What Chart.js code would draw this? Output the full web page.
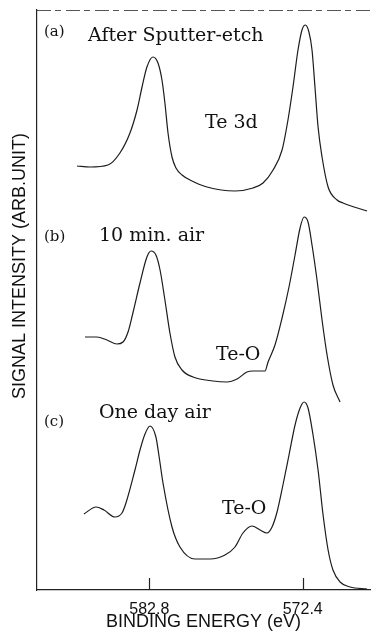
<!DOCTYPE html>
<html>
<head>
<meta charset="utf-8">
<script src="https://cdn.jsdelivr.net/npm/chart.js@4"></script>
<style>
  html, body { margin: 0; padding: 0; background: #fff; }
  canvas { display: block; }
</style>
</head>
<body>
<canvas id="c" width="376" height="638"></canvas>
<script>
// Binding energy (eV) and signal intensity (arb. units) for each spectrum
const energyA = [587.70, 586.82, 585.60, 584.79, 584.11, 583.63, 583.29, 582.96, 582.55, 582.21, 581.94, 581.74, 581.53, 581.26, 580.99, 580.58, 580.04, 578.89, 576.99, 575.77, 575.09, 574.41, 573.80, 573.40, 573.06, 572.72, 572.45, 572.22, 571.98, 571.77, 571.57, 571.36, 571.09, 570.68, 570.07, 569.67, 568.04];
const intensityA = [424, 423, 425, 437, 457, 480, 503, 523, 533, 527, 510, 487, 457, 433, 422, 415, 410, 403, 399, 402, 407, 420, 440, 470, 503, 540, 560, 565, 558, 540, 503, 463, 433, 403, 390, 387, 379];

const energyB = [587.16, 586.35, 585.67, 584.99, 584.58, 584.24, 583.91, 583.43, 582.96, 582.68, 582.35, 582.07, 581.74, 581.40, 581.06, 580.58, 579.84, 578.48, 577.53, 576.85, 576.18, 575.77, 574.96, 574.75, 574.28, 573.80, 573.33, 572.92, 572.58, 572.31, 572.04, 571.77, 571.43, 571.09, 570.75, 570.35, 569.87];
const intensityB = [253, 253, 250, 246, 248, 258, 277, 307, 333, 339, 335, 320, 290, 257, 233, 220, 213, 209, 208, 211, 218, 219, 219, 228, 245, 272, 303, 335, 362, 373, 368, 345, 310, 270, 235, 205, 188];

const energyC = [587.23, 586.41, 585.87, 585.13, 584.65, 584.38, 583.77, 583.43, 583.09, 582.75, 582.35, 582.15, 581.87, 581.26, 580.72, 579.70, 578.68, 577.67, 576.99, 576.45, 575.84, 575.29, 574.82, 574.48, 574.14, 573.74, 573.33, 572.92, 572.58, 572.31, 572.04, 571.70, 571.36, 571.02, 570.68, 570.35, 569.87, 569.19, 568.04];
const intensityC = [76, 83, 80, 73, 77, 87, 120, 140, 156, 164, 153, 135, 107, 63, 43, 31, 31, 35, 43, 57, 64, 60, 57, 63, 78, 105, 135, 165, 182, 188, 182, 155, 120, 75, 40, 20, 8, 3, 1];

const tickEnergies = [582.8, 572.4];
const tickLabels = ['582.8', '572.4'];
const xTitle = 'BINDING ENERGY (eV)';
const yTitle = 'SIGNAL INTENSITY (ARB.UNIT)';

const panelLabels = [
  { text: '(a)', x: 44, y: 36, size: 15 },
  { text: 'After Sputter-etch', x: 88, y: 41, size: 19 },
  { text: 'Te 3d', x: 205, y: 128, size: 19 },
  { text: '(b)', x: 44, y: 241, size: 15 },
  { text: '10 min. air', x: 99, y: 241, size: 19 },
  { text: 'Te-O', x: 216, y: 360, size: 19 },
  { text: '(c)', x: 44, y: 426, size: 15 },
  { text: 'One day air', x: 99, y: 418, size: 19 },
  { text: 'Te-O', x: 222, y: 514, size: 19 }
];

function pairs(xs, ys) { return xs.map((x, i) => ({ x: x, y: ys[i] })); }

const lineStyle = {
  borderColor: '#1c1c1c',
  borderWidth: 1.2,
  pointRadius: 0,
  fill: false,
  cubicInterpolationMode: 'monotone'
};

const decor = {
  id: 'decor',
  afterDraw(chart) {
    const ctx = chart.ctx;
    const a = chart.chartArea;
    const xs = chart.scales.x;
    ctx.save();
    // top frame line (dashed, faint as in the scan)
    ctx.strokeStyle = '#555';
    ctx.lineWidth = 1;
    ctx.setLineDash([14, 4, 6, 5]);
    ctx.beginPath();
    ctx.moveTo(a.left, a.top + 0.5);
    ctx.lineTo(a.right + 2, a.top + 0.5);
    ctx.stroke();
    ctx.setLineDash([]);
    // inward tick marks on the energy axis
    ctx.strokeStyle = '#222';
    ctx.lineWidth = 1.2;
    tickEnergies.forEach(v => {
      const px = Math.round(xs.getPixelForValue(v)) + 0.5;
      ctx.beginPath();
      ctx.moveTo(px, a.bottom);
      ctx.lineTo(px, a.bottom - 12);
      ctx.stroke();
    });
    // vertical axis title
    ctx.save();
    ctx.translate(20, 266);
    ctx.rotate(-Math.PI / 2);
    ctx.fillStyle = '#111';
    ctx.font = '18px "Liberation Sans"';
    ctx.textAlign = 'center';
    ctx.textBaseline = 'middle';
    ctx.fillText(yTitle, 0, 0);
    ctx.restore();
    // panel annotations
    ctx.fillStyle = '#111';
    ctx.textAlign = 'left';
    ctx.textBaseline = 'alphabetic';
    panelLabels.forEach(l => {
      ctx.font = l.size + 'px "DejaVu Serif"';
      ctx.fillText(l.text, l.x, l.y);
    });
    ctx.restore();
  }
};

new Chart(document.getElementById('c'), {
  type: 'line',
  data: {
    datasets: [
      Object.assign({ label: '(a) After Sputter-etch', data: pairs(energyA, intensityA) }, lineStyle),
      Object.assign({ label: '(b) 10 min. air', data: pairs(energyB, intensityB) }, lineStyle),
      Object.assign({ label: '(c) One day air', data: pairs(energyC, intensityC) }, lineStyle)
    ]
  },
  options: {
    responsive: false,
    animation: false,
    layout: { padding: { top: 10, right: 6, left: 0, bottom: 0 } },
    plugins: { legend: { display: false }, tooltip: { enabled: false } },
    scales: {
      x: {
        type: 'linear',
        reverse: true,
        min: 567.84,
        max: 590.41,
        afterBuildTicks(scale) { scale.ticks = tickEnergies.map(v => ({ value: v })); },
        afterFit(scale) { scale.height = 48; },
        grid: { display: false },
        border: { display: true, color: '#222', width: 1.2 },
        ticks: {
          autoSkip: false,
          maxRotation: 0,
          padding: 2,
          color: '#111',
          font: { family: 'Liberation Sans', size: 16 },
          callback: (v) => { const i = tickEnergies.indexOf(v); return i >= 0 ? tickLabels[i] : ''; }
        },
        title: {
          display: true,
          text: xTitle,
          color: '#111',
          font: { family: 'Liberation Sans', size: 18 },
          padding: { top: 0, bottom: 5 }
        }
      },
      y: {
        type: 'linear',
        min: 0,
        max: 580,
        afterFit(scale) { scale.width = 37; },
        grid: { display: false },
        border: { display: true, color: '#222', width: 1.2 },
        ticks: { display: false },
        title: { display: false }
      }
    }
  },
  plugins: [decor]
});
</script>
</body>
</html>
